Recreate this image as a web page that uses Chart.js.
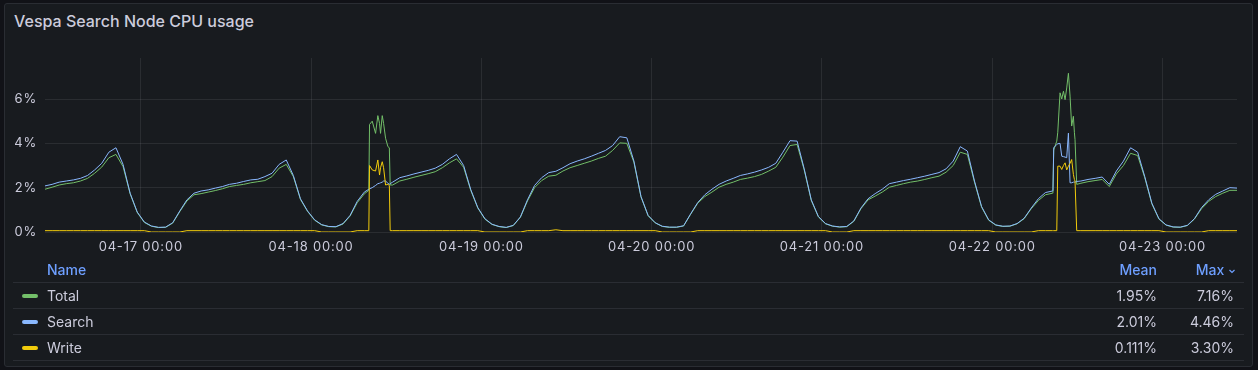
<!DOCTYPE html>
<html>
<head>
<meta charset="utf-8">
<script src="https://cdn.jsdelivr.net/npm/chart.js@4.4.1/dist/chart.umd.min.js"></script>
<style>
  body { margin: 0; background: #111217; font-family: Inter, sans-serif; }
  #panel { position: absolute; left: 4px; top: 3px; width: 1247px; height: 362px;
           background: #181b1f; border: 1px solid #2a2d33; border-radius: 3px; }
  #title { position: absolute; left: 14px; top: 11px; font-size: 16px; font-weight: 500;
           color: #ccccdc; line-height: 20px; }
  #wrap { position: absolute; left: 0; top: 0; width: 1258px; height: 260px; }
  #legend { position: absolute; left: 13px; top: 257px; width: 1231px; font-size: 14px; color: #ccccdc; }
  .row { position: relative; height: 26px; border-bottom: 1px solid #2a2d33; box-sizing: border-box; }
  .row span { position: absolute; top: 0; line-height: 25px; }
  .sw { position: absolute; left: 9px; top: 11px; width: 16px; height: 4px; border-radius: 2px; }
  .name { left: 34px; }
  .mean { right: 87px; }
  .max { right: 10px; }
  .head { color: #6e9fff; font-weight: 500; }
</style>
</head>
<body>
<div id="panel"></div>
<div id="title">Vespa Search Node CPU usage</div>
<div id="wrap"><canvas id="cpu"></canvas></div>
<div id="legend"></div>
<script>
// hourly samples, first one at 04-16 10:30 (hours counted from 04-16 00:00)
const startHour = 10.5;

const total = [
  1.93, 2.02, 2.12, 2.18, 2.22, 2.3, 2.42, 2.65, 2.93, 3.35,
  3.5, 2.95, 1.72, 0.88, 0.43, 0.26, 0.2, 0.21, 0.4, 0.92,
  1.4, 1.68, 1.73, 1.8, 1.87, 1.95, 2.05, 2.1, 2.15, 2.22,
  2.27, 2.32, 2.5, 2.88, 3.05, 2.5, 1.47, 0.93, 0.53, 0.32,
  0.24, 0.23, 0.36, 0.72, 1.32, 1.72, null, null, null, 2.12,
  2.3, 2.38, 2.47, 2.55, 2.63, 2.72, 2.9, 3.12, 3.3, 2.92,
  1.88, 1.08, 0.58, 0.34, 0.24, 0.2, 0.29, 0.66, 1.4, 2.0,
  2.32, 2.52, 2.56, 2.75, 2.9, 3.0, 3.1, 3.2, 3.32, 3.42,
  3.68, 4.02, 4.0, 3.15, 1.58, 0.73, 0.41, 0.25, 0.21, 0.21,
  0.27, 0.8, 1.3, 1.6, 1.8, 2.02, 2.15, 2.25, 2.37, 2.43,
  2.5, 2.6, 2.75, 2.92, 3.38, 3.9, 3.95, 2.8, 1.42, 0.68,
  0.37, 0.26, 0.22, 0.24, 0.48, 1.05, 1.45, 1.62, 1.8, 2.02,
  2.1, 2.18, 2.25, 2.3, 2.37, 2.45, 2.52, 2.7, 3.0, 3.6,
  3.5, 2.25, 1.12, 0.53, 0.31, 0.25, 0.26, 0.37, 0.6, 1.05,
  1.42, 1.68, 1.75, null, null, null, 2.2, 2.27, 2.32, 2.37,
  2.05, 2.62, 3.0, 3.55, 3.45, 2.45, 1.27, 0.58, 0.31, 0.22,
  0.21, 0.29, 0.58, 1.05, 1.38, 1.6, 1.75, 1.88, 1.88
];

const search = [
  2.08, 2.15, 2.25, 2.3, 2.35, 2.42, 2.55, 2.8, 3.1, 3.6,
  3.8, 3.05, 1.75, 0.9, 0.45, 0.27, 0.21, 0.22, 0.42, 0.95,
  1.45, 1.75, 1.85, 1.9, 1.98, 2.05, 2.15, 2.2, 2.28, 2.35,
  2.38, 2.5, 2.65, 3.05, 3.25, 2.55, 1.5, 0.95, 0.55, 0.33,
  0.25, 0.24, 0.38, 0.75, 1.38, 1.8, null, null, null, 2.25,
  2.45, 2.53, 2.62, 2.7, 2.78, 2.88, 3.05, 3.3, 3.5, 3.0,
  1.92, 1.1, 0.6, 0.35, 0.25, 0.21, 0.3, 0.68, 1.45, 2.1,
  2.45, 2.68, 2.74, 2.9, 3.08, 3.2, 3.3, 3.42, 3.55, 3.68,
  3.9, 4.3, 4.25, 3.2, 1.6, 0.75, 0.42, 0.26, 0.22, 0.22,
  0.28, 0.82, 1.33, 1.68, 1.93, 2.15, 2.3, 2.42, 2.55, 2.62,
  2.7, 2.8, 2.92, 3.1, 3.6, 4.12, 4.1, 2.85, 1.45, 0.7,
  0.38, 0.27, 0.23, 0.25, 0.5, 1.08, 1.5, 1.73, 1.93, 2.18,
  2.25, 2.32, 2.38, 2.45, 2.52, 2.6, 2.68, 2.85, 3.2, 3.85,
  3.65, 2.3, 1.15, 0.55, 0.32, 0.26, 0.27, 0.38, 0.62, 1.08,
  1.5, 1.78, 1.85, null, null, null, 2.3, 2.37, 2.42, 2.48,
  2.15, 2.75, 3.2, 3.8, 3.6, 2.5, 1.3, 0.6, 0.32, 0.23,
  0.22, 0.3, 0.6, 1.1, 1.45, 1.7, 1.85, 2.0, 1.98
];

const write = [
  0.06, 0.06, 0.06, 0.06, 0.06, 0.06, 0.06, 0.06, 0.06, 0.06,
  0.06, 0.06, 0.06, 0.06, 0.06, 0, 0, 0, 0, 0,
  0.06, 0.06, 0.06, 0.06, 0.06, 0.06, 0.06, 0.06, 0.06, 0.06,
  0.06, 0.06, 0.06, 0.06, 0.06, 0.06, 0.06, 0.06, 0.06, 0,
  0, 0, 0, 0, 0.06, 0.06, null, null, null, 0.06,
  0.06, 0.06, 0.06, 0.06, 0.06, 0.06, 0.06, 0.06, 0.06, 0.06,
  0.06, 0.06, 0, 0, 0, 0, 0, 0, 0.06, 0.06,
  0.06, 0.06, 0.1, 0.06, 0.06, 0.06, 0.06, 0.06, 0.06, 0.06,
  0.06, 0.06, 0.06, 0.06, 0.06, 0.06, 0.06, 0, 0, 0,
  0, 0, 0.06, 0.06, 0.06, 0.06, 0.06, 0.06, 0.06, 0.06,
  0.06, 0.06, 0.06, 0.06, 0.06, 0.06, 0.06, 0.06, 0.06, 0.06,
  0.06, 0, 0, 0, 0.06, 0.06, 0.06, 0.06, 0.06, 0.06,
  0.06, 0.06, 0.06, 0.06, 0.06, 0.06, 0.06, 0.06, 0.06, 0.06,
  0.06, 0.06, 0.06, 0.06, 0, 0, 0, 0, 0, 0,
  0.06, 0.06, 0.06, null, null, null, 0.06, 0.06, 0.06, 0.06,
  0.06, 0.06, 0.06, 0.06, 0.06, 0.06, 0.06, 0.06, 0, 0,
  0, 0, 0, 0, 0.06, 0.06, 0.06, 0.06, 0.06
];

// finer samples around the two write bursts (04-18 ~08:00 and 04-22 ~08:30)
const detailHours = [
  56.14, 56.24, 56.62, 57.09, 57.41, 57.65, 57.79, 58.03, 58.22, 58.5, 58.83, 59.03, 59.15,
  152.56, 152.67, 153.1, 153.24, 153.56, 153.8, 154.04, 154.27, 154.5, 154.74, 154.97, 155.2, 155.44, 155.58, 155.67, 155.91
];
const detailTotal = [
  1.88, 4.85, 5.0, 4.45, 5.25, 4.9, 4.45, 5.25, 4.9, 4.23, 3.85, 3.8, 2.12,
  1.77, 3.7, 4.1, 4.5, 6.28, 6.0, 6.35, 5.97, 6.5, 7.16, 6.13, 4.78, 5.22, 4.5, 4.17, 2.15
];
const detailSearch = [
  1.93, 1.95, 2.0, 2.1, 2.18, 2.2, 2.22, 2.25, 2.3, 2.3, 2.2, 2.15, 2.18,
  1.87, 3.8, 3.95, 3.98, 4.0, 3.42, 3.4, 3.38, 3.35, 4.46, 2.22, 2.22, 2.25, 2.25, 2.25, 2.28
];
const detailWrite = [
  0.06, 3.0, 2.8, 2.75, 3.25, 2.57, 2.9, 3.17, 2.9, 2.12, 2.15, 2.1, 0.06,
  0.06, 0.06, 0.06, 2.97, 2.97, 2.82, 3.0, 3.12, 2.8, 2.97, 3.1, 3.27, 2.6, 2.37, 2.3, 0.06
];

const seriesNames = ['Total', 'Search', 'Write'];
const seriesColors = ['#73bf69', '#8ab8ff', '#f2cc0c'];
const means = ['1.95%', '2.01%', '0.111%'];
const maxes = ['7.16%', '4.46%', '3.30%'];
const dayTicks = [24, 48, 72, 96, 120, 144, 168];

function points(base, detail) {
  const pts = [];
  base.forEach((v, i) => { if (v !== null) pts.push({ x: startHour + i, y: v }); });
  detail.forEach((v, i) => pts.push({ x: detailHours[i], y: v }));
  pts.sort((a, b) => a.x - b.x);
  return pts;
}

const grid = 'rgba(204,204,220,0.1)';
const txt = '#ccccdc';

// grafana spreads the axis text out a little
const spacing = {
  id: 'spacing',
  beforeDraw: chart => { chart.ctx.letterSpacing = '0.8px'; }
};

new Chart(document.getElementById('cpu'), {
  type: 'line',
  data: {
    datasets: [
      { label: 'Total', data: points(total, detailTotal), borderColor: seriesColors[0], order: 2 },
      { label: 'Search', data: points(search, detailSearch), borderColor: seriesColors[1], order: 1 },
      { label: 'Write', data: points(write, detailWrite), borderColor: seriesColors[2], order: 0 }
    ]
  },
  plugins: [spacing],
  options: {
    responsive: true,
    maintainAspectRatio: false,
    animation: false,
    parsing: false,
    layout: { padding: { top: 58, right: 21, bottom: 0, left: 0 } },
    elements: {
      line: { borderWidth: 1, tension: 0 },
      point: { radius: 0 }
    },
    plugins: { legend: { display: false }, tooltip: { enabled: false } },
    scales: {
      x: {
        type: 'linear',
        min: 10.5,
        max: 178.5,
        afterFit: s => { s.height = 28; },
        afterBuildTicks: s => { s.ticks = dayTicks.map(v => ({ value: v })); },
        border: { display: false },
        grid: { color: grid, drawTicks: false },
        ticks: {
          color: txt, font: { family: 'Inter', size: 13 }, padding: 7,
          autoSkip: false, maxRotation: 0,
          callback: v => '04-' + (16 + v / 24) + ' 00:00'
        }
      },
      y: {
        min: 0,
        max: 7.85,
        afterFit: s => { s.width = 45; },
        border: { display: false },
        grid: { color: grid, drawTicks: false },
        ticks: {
          stepSize: 2, includeBounds: false, padding: 8,
          color: txt, font: { family: 'Inter', size: 13 },
          callback: v => v + '%'
        }
      }
    }
  }
});

// legend table
const legend = document.getElementById('legend');
let html = '<div class="row"><span class="name head">Name</span><span class="mean head">Mean</span>' +
  '<span class="max head" style="right:8px">Max <svg width="8" height="8" viewBox="0 0 8 8" style="vertical-align:middle">' +
  '<path d="M1.5 3 L4 5.5 L6.5 3" stroke="#6e9fff" stroke-width="1.2" fill="none"/></svg></span></div>';
seriesNames.forEach((n, i) => {
  html += '<div class="row"><div class="sw" style="background:' + seriesColors[i] + '"></div>' +
    '<span class="name">' + n + '</span><span class="mean">' + means[i] + '</span>' +
    '<span class="max">' + maxes[i] + '</span></div>';
});
legend.innerHTML = html;
</script>
</body>
</html>
